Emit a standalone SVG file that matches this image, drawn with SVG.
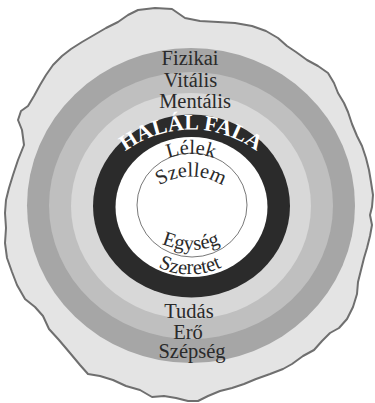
<svg xmlns="http://www.w3.org/2000/svg" width="375" height="403" viewBox="0 0 375 403">
<style>
text{font-family:'Liberation Serif','DejaVu Serif',serif}
.lbl{font-size:20.5px;fill:#2a2a2a;text-anchor:middle}
.arc{font-size:20.5px;fill:#2a2a2a;text-anchor:middle}
.wall{font-size:22px;font-weight:bold;fill:#ffffff;text-anchor:middle}
</style>
<defs>
<path id="pWall" d="M 105 171 A 110 110 0 0 1 277 171"/>
<path id="pLelek" d="M 141 177.5 A 65 65 0 0 1 241 177.5"/>
<path id="pSzellem" d="M 143 200.5 A 60 60 0 0 1 239 200.5"/>
<path id="pEgyseg" d="M 129 216.3 A 74 74 0 0 0 253 216.3"/>
<path id="pSzeretet" d="M 128 240.8 A 74 74 0 0 0 252 240.8"/>
</defs>
<g id="blob">
<path d="M138 10 L155 8 L172 9 L185 18 L200 21 L218 22 L235 23 L252 26 L266 31 L278 38 L287 46 L296 52 L307 60 L318 66 L328 73 L334 83 L338 93 L344 103 L348 112 L352 124 L357 136 L362 146 L366 158 L369 170 L371 182 L373 195 L372 207 L370 215 L372 225 L370 236 L367 248 L364 258 L361 270 L358 282 L357 294 L353 307 L347 319 L339 328 L330 333 L322 341 L314 350 L303 356 L292 364 L283 369 L270 374 L256 379 L244 384 L232 388 L220 391 L208 396 L198 401 L188 401 L176 398 L164 396 L152 397 L140 390 L126 386 L113 380 L100 376 L88 374 L80 365 L70 353 L59 340 L49 329 L43 316 L35 307 L25 299 L17 285 L12 272 L7 258 L5 243 L6 228 L5 213 L6 200 L9 188 L13 175 L18 160 L24 145 L22 130 L18 120 L21 111 L28 106 L34 96 L40 85 L46 75 L53 65 L62 56 L71 49 L82 42 L94 35 L106 28 L118 22 L128 15 Z" fill="#e4e4e4" stroke="#6f6f6f" stroke-width="2" stroke-linejoin="round"/>
</g>
<g id="rings">
<ellipse cx="191" cy="205.5" rx="164" ry="157.5" fill="#a6a6a6"/>
<ellipse cx="191" cy="205.5" rx="142" ry="133.5" fill="#bfbfbf"/>
<ellipse cx="191" cy="206" rx="120" ry="113" fill="#d8d8d8"/>
<ellipse cx="191.5" cy="206" rx="98.5" ry="91.5" fill="#2b2b2b"/>
<ellipse cx="191.5" cy="207" rx="76" ry="70" fill="#ffffff"/>
<ellipse cx="192" cy="205" rx="55" ry="52" fill="none" stroke="#555555" stroke-width="0.8"/>
</g>
<g id="labels-outer">
<text class="lbl" x="190" y="65" font-family="Liberation Serif, serif">Fizikai</text>
<text class="lbl" x="190.5" y="87" font-family="Liberation Serif, serif">Vitális</text>
<text class="lbl" x="195" y="108" font-family="Liberation Serif, serif">Mentális</text>
<text class="lbl" x="189" y="318" font-family="Liberation Serif, serif">Tudás</text>
<text class="lbl" x="188" y="338.5" font-family="Liberation Serif, serif">Erő</text>
<text class="lbl" x="192" y="358" font-family="Liberation Serif, serif">Szépség</text>
</g>
<g id="labels-inner">
<text class="wall" font-family="Liberation Serif, serif"><textPath href="#pWall" startOffset="50%">HALÁL FALA</textPath></text>
<text class="arc" font-family="Liberation Serif, serif"><textPath href="#pLelek" startOffset="50%">Lélek</textPath></text>
<text class="arc" font-family="Liberation Serif, serif"><textPath href="#pSzellem" startOffset="50%">Szellem</textPath></text>
<text class="arc" font-family="Liberation Serif, serif"><textPath href="#pEgyseg" startOffset="50%">Egység</textPath></text>
<text class="arc" font-family="Liberation Serif, serif"><textPath href="#pSzeretet" startOffset="50%">Szeretet</textPath></text>
</g>
</svg>
